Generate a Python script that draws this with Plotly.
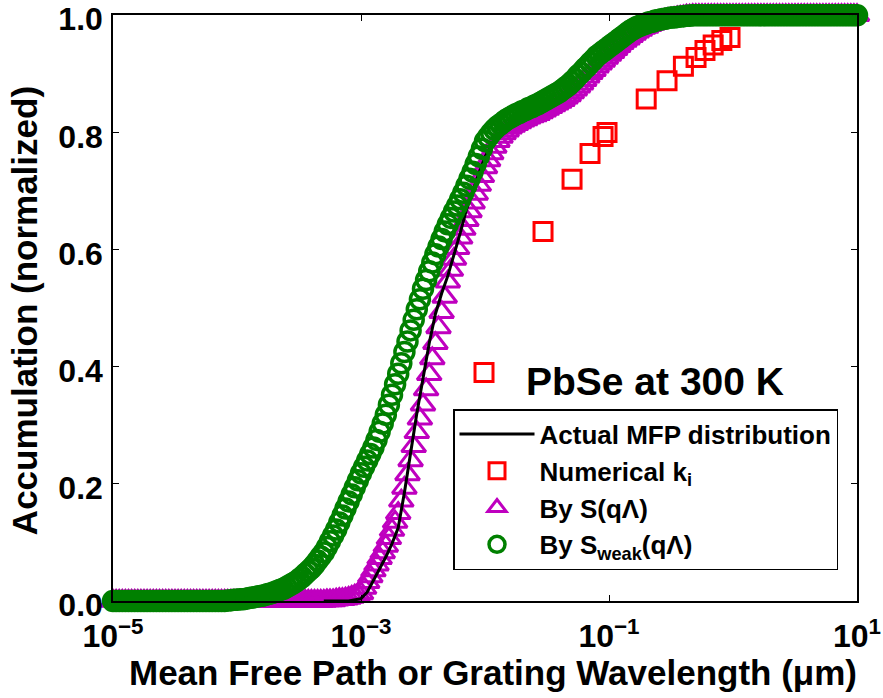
import plotly.graph_objects as go

# ---------------- data (log10 of mean free path in um) ----------------
log_grid_low = [-5.000, -4.975, -4.950, -4.925, -4.900, -4.875, -4.850, -4.825, -4.800, -4.775,
                -4.750, -4.725, -4.700, -4.675, -4.650, -4.625, -4.600, -4.575, -4.550, -4.525,
                -4.500, -4.475, -4.450, -4.425, -4.400, -4.375, -4.350, -4.325, -4.300, -4.275,
                -4.250, -4.225, -4.200, -4.175, -4.150, -4.125, -4.100, -4.075, -4.050, -4.025,
                -4.000, -3.975, -3.950, -3.925, -3.900, -3.875, -3.850, -3.825, -3.800, -3.775,
                -3.750, -3.725, -3.700, -3.675, -3.650, -3.625, -3.600, -3.575, -3.550, -3.525]
log_grid_mid = [-3.500, -3.475, -3.450, -3.425, -3.400, -3.375, -3.350, -3.325, -3.300, -3.275,
                -3.250, -3.225, -3.200, -3.175, -3.150, -3.125, -3.100, -3.075, -3.050, -3.025,
                -3.000, -2.975, -2.950, -2.925, -2.900, -2.875, -2.850, -2.825, -2.800, -2.775,
                -2.750, -2.725, -2.700, -2.675, -2.650, -2.625, -2.600, -2.575, -2.550, -2.525,
                -2.500, -2.475, -2.450, -2.425, -2.400, -2.375, -2.350, -2.325, -2.300, -2.275,
                -2.250, -2.225, -2.200, -2.175, -2.150, -2.125, -2.100, -2.075, -2.050, -2.025,
                -2.000, -1.975, -1.950, -1.925, -1.900, -1.875, -1.850, -1.825, -1.800]
log_grid_high = [-1.775, -1.750, -1.725, -1.700, -1.675, -1.650, -1.625, -1.600, -1.575, -1.550,
                 -1.525, -1.500, -1.475, -1.450, -1.425, -1.400, -1.375, -1.350, -1.325, -1.300,
                 -1.275, -1.250, -1.225, -1.200, -1.175, -1.150, -1.125, -1.100, -1.075, -1.050,
                 -1.025, -1.000, -0.975, -0.950, -0.925, -0.900, -0.875, -0.850, -0.825, -0.800,
                 -0.775, -0.750, -0.725, -0.700, -0.675, -0.650, -0.625, -0.600, -0.575, -0.550,
                 -0.525, -0.500, -0.475, -0.450, -0.425, -0.400, -0.375, -0.350, -0.325, -0.300,
                 -0.275, -0.250, -0.225, -0.200, -0.175, -0.150, -0.125, -0.100, -0.075, -0.050,
                 -0.025, 0.000, 0.025, 0.050, 0.075, 0.100, 0.125, 0.150, 0.175, 0.200,
                 0.225, 0.250, 0.275, 0.300, 0.325, 0.350, 0.375, 0.400, 0.425, 0.450,
                 0.475, 0.500, 0.525, 0.550, 0.575, 0.600, 0.625, 0.650, 0.675, 0.700,
                 0.725, 0.750, 0.775, 0.800, 0.825, 0.850, 0.875, 0.900, 0.925, 0.950,
                 0.975, 1.000]

# By S_weak(q Lambda)  (green circles)
weak_low = [0, 0, 0, 0, 0, 0, 0, 0, 0, 0,
            0, 0, 0, 0, 0, 0, 0, 0, 0, 0,
            0, 0, 0, 0, 0, 0, 0, 0, 0, 0,
            0, 0, 0, 0, 0, 0, 0, 0.001, 0.001, 0.002,
            0.002, 0.003, 0.003, 0.004, 0.005, 0.006, 0.007, 0.008, 0.009, 0.010,
            0.012, 0.013, 0.015, 0.017, 0.019, 0.021, 0.024, 0.027, 0.030, 0.033]
weak_mid = [0.037, 0.041, 0.046, 0.051, 0.056, 0.062, 0.069, 0.076, 0.083, 0.092,
            0.102, 0.112, 0.122, 0.134, 0.146, 0.158, 0.170, 0.182, 0.194, 0.206,
            0.218, 0.229, 0.240, 0.251, 0.262, 0.275, 0.289, 0.303, 0.318, 0.335,
            0.352, 0.370, 0.388, 0.406, 0.425, 0.443, 0.462, 0.480, 0.498, 0.515,
            0.533, 0.548, 0.563, 0.578, 0.592, 0.605, 0.618, 0.631, 0.643, 0.654,
            0.665, 0.675, 0.686, 0.697, 0.709, 0.721, 0.733, 0.746, 0.759, 0.772,
            0.785, 0.792, 0.799, 0.805, 0.810, 0.814, 0.818, 0.822, 0.825]
weak_high = [0.828, 0.831, 0.833, 0.836, 0.838, 0.841, 0.843, 0.846, 0.848, 0.851,
             0.854, 0.857, 0.860, 0.863, 0.866, 0.869, 0.873, 0.877, 0.881, 0.886,
             0.891, 0.897, 0.902, 0.908, 0.913, 0.919, 0.924, 0.930, 0.934, 0.938,
             0.942, 0.946, 0.950, 0.954, 0.958, 0.962, 0.966, 0.970, 0.974, 0.977,
             0.980, 0.982, 0.984, 0.986, 0.988, 0.989, 0.991, 0.992, 0.993, 0.994,
             0.995, 0.996, 0.996, 0.997, 0.998, 0.998, 0.999, 0.999, 1.0, 1.0,
             1.0, 1.0, 1.0, 1.0, 1.0, 1.0, 1.0, 1.0, 1.0, 1.0,
             1.0, 1.0, 1.0, 1.0, 1.0, 1.0, 1.0, 1.0, 1.0, 1.0,
             1.0, 1.0, 1.0, 1.0, 1.0, 1.0, 1.0, 1.0, 1.0, 1.0,
             1.0, 1.0, 1.0, 1.0, 1.0, 1.0, 1.0, 1.0, 1.0, 1.0,
             1.0, 1.0, 1.0, 1.0, 1.0, 1.0, 1.0, 1.0, 1.0, 1.0,
             1.0, 1.0]

# By S(q Lambda)  (magenta triangles)
s_low = [0, 0, 0, 0, 0, 0, 0, 0, 0, 0,
         0, 0, 0, 0, 0, 0, 0, 0, 0, 0,
         0, 0, 0, 0, 0, 0, 0, 0, 0, 0,
         0, 0, 0, 0, 0, 0, 0, 0, 0, 0,
         0, 0, 0, 0, 0, 0, 0, 0, 0, 0,
         0, 0, 0, 0, 0, 0, 0, 0, 0, 0]
s_mid = [0, 0, 0, 0, 0, 0, 0, 0, 0, 0.001,
         0.001, 0.001, 0.002, 0.003, 0.003, 0.004, 0.005, 0.007, 0.009, 0.011,
         0.013, 0.022, 0.032, 0.042, 0.052, 0.062, 0.073, 0.083, 0.094, 0.107,
         0.121, 0.135, 0.150, 0.171, 0.193, 0.216, 0.240, 0.264, 0.288, 0.311,
         0.335, 0.361, 0.387, 0.414, 0.440, 0.467, 0.493, 0.519, 0.545, 0.565,
         0.584, 0.602, 0.620, 0.635, 0.650, 0.665, 0.680, 0.695, 0.710, 0.725,
         0.740, 0.752, 0.764, 0.775, 0.785, 0.792, 0.798, 0.803, 0.808]
s_high = [0.811, 0.814, 0.817, 0.820, 0.822, 0.825, 0.827, 0.829, 0.831, 0.834,
          0.837, 0.840, 0.843, 0.846, 0.849, 0.852, 0.855, 0.859, 0.863, 0.868,
          0.873, 0.878, 0.883, 0.889, 0.895, 0.901, 0.906, 0.912, 0.917, 0.922,
          0.927, 0.932, 0.937, 0.942, 0.947, 0.952, 0.956, 0.960, 0.964, 0.968,
          0.972, 0.975, 0.978, 0.980, 0.983, 0.985, 0.987, 0.989, 0.991, 0.992,
          0.993, 0.994, 0.995, 0.996, 0.997, 0.998, 0.999, 0.999, 1.0, 1.0,
          1.0, 1.0, 1.0, 1.0, 1.0, 1.0, 1.0, 1.0, 1.0, 1.0,
          1.0, 1.0, 1.0, 1.0, 1.0, 1.0, 1.0, 1.0, 1.0, 1.0,
          1.0, 1.0, 1.0, 1.0, 1.0, 1.0, 1.0, 1.0, 1.0, 1.0,
          1.0, 1.0, 1.0, 1.0, 1.0, 1.0, 1.0, 1.0, 1.0, 1.0,
          1.0, 1.0, 1.0, 1.0, 1.0, 1.0, 1.0, 1.0, 1.0, 1.0,
          1.0, 1.0]

# Actual MFP distribution (black line)
actual_log = [-3.30, -3.10, -3.00, -2.95, -2.90, -2.85, -2.80, -2.75, -2.70, -2.65,
              -2.60, -2.55, -2.50, -2.45, -2.40, -2.35, -2.30, -2.25, -2.20, -2.15,
              -2.10, -2.05, -2.00, -1.90, -1.80, -1.70, -1.60, -1.50, -1.40, -1.30,
              -1.20, -1.10, -1.00, -0.90, -0.80, -0.70, -0.60, -0.50, -0.40, -0.30,
              0.00, 0.50, 1.00]
actual_y = [0.0, 0.0, 0.004, 0.015, 0.035, 0.055, 0.075, 0.098, 0.125, 0.185,
            0.255, 0.320, 0.380, 0.440, 0.490, 0.525, 0.555, 0.590, 0.628, 0.668,
            0.700, 0.730, 0.758, 0.795, 0.812, 0.823, 0.832, 0.843, 0.855, 0.871,
            0.892, 0.915, 0.935, 0.954, 0.970, 0.981, 0.990, 0.995, 0.998, 1.0,
            1.0, 1.0, 1.0]

# Numerical k_i (red squares)
num_log = [-2.008, -1.532, -1.298, -1.153, -1.048, -1.016, -0.700, -0.532,
           -0.400, -0.298, -0.226, -0.160, -0.090, -0.024]
num_y = [0.390, 0.631, 0.720, 0.764, 0.793, 0.800, 0.857, 0.888,
         0.913, 0.928, 0.940, 0.949, 0.957, 0.962]

x_ticks = [1e-5, 1e-3, 1e-1, 1e1]
x_ticktext = ["10<sup>−5</sup>", "10<sup>−3</sup>", "10<sup>−1</sup>", "10<sup>1</sup>"]
y_ticks = [0.0, 0.2, 0.4, 0.6, 0.8, 1.0]
y_ticktext = ["0.0", "0.2", "0.4", "0.6", "0.8", "1.0"]

# ---------------- figure ----------------
FONT = "Liberation Sans, Arial, Helvetica, sans-serif"
GREEN = "#008000"
MAG = "#BF00BF"
RED = "#FF0000"

grid = [10 ** v for v in (log_grid_low + log_grid_mid + log_grid_high)]
weak_y = weak_low + weak_mid + weak_high
s_y = s_low + s_mid + s_high

fig = go.Figure()
fig.add_trace(go.Scatter(
    x=grid, y=s_y, mode="markers", name="By S(qΛ)",
    marker=dict(symbol="triangle-up-open", size=21, color=MAG, line=dict(width=3, color=MAG)),
    cliponaxis=False, legendrank=3, legendgroup="g3"))
fig.add_trace(go.Scatter(
    x=[10 ** v for v in actual_log], y=actual_y, mode="lines", name="Actual MFP distribution",
    line=dict(color="black", width=3), cliponaxis=False, legendrank=1, legendgroup="g1"))
fig.add_trace(go.Scatter(
    x=grid, y=weak_y, mode="markers", name="By S<sub>weak</sub>(qΛ)",
    marker=dict(symbol="circle-open", size=19, color=GREEN, line=dict(width=3.5, color=GREEN)),
    cliponaxis=False, legendrank=4, legendgroup="g4"))
fig.add_trace(go.Scatter(
    x=[10 ** v for v in num_log], y=num_y, mode="markers", name="Numerical k<sub>i</sub>",
    marker=dict(symbol="square-open", size=18, color=RED, line=dict(width=3, color=RED)),
    cliponaxis=False, legendrank=2, legendgroup="g2"))

fig.update_layout(
    width=883, height=698,
    margin=dict(l=113, r=26, t=15, b=97, autoexpand=False),
    paper_bgcolor="white", plot_bgcolor="white",
    font=dict(family=FONT, color="black", weight="bold"),
    showlegend=True,
    legend=dict(
        x=0.457, y=0.3276, xanchor="left", yanchor="top",
        bgcolor="white", bordercolor="black", borderwidth=1.5,
        font=dict(size=26, family=FONT, color="black", weight="bold"),
        itemwidth=75, tracegroupgap=16, traceorder="normal",
    ),
    xaxis=dict(
        type="log", range=[-5, 1], tickvals=x_ticks, ticktext=x_ticktext,
        ticks="inside", ticklen=6, tickwidth=1, tickcolor="black",
        mirror="allticks", showline=True, linecolor="black", linewidth=1.5,
        showgrid=False, zeroline=False, automargin=False,
        ticklabeloverflow="allow",
        tickfont=dict(size=32, family=FONT, color="black", weight="bold"),
        ticklabelstandoff=6,
    ),
    yaxis=dict(
        range=[0, 1.0004], tickvals=y_ticks, ticktext=y_ticktext,
        ticks="inside", ticklen=6, tickwidth=1, tickcolor="black",
        mirror="allticks", showline=True, linecolor="black", linewidth=1.5,
        showgrid=False, zeroline=False, automargin=False,
        ticklabeloverflow="allow",
        tickfont=dict(size=32, family=FONT, color="black", weight="bold"),
        ticklabelstandoff=2, ticklabelshift=4,
    ),
    annotations=[
        dict(text="Mean Free Path or Grating Wavelength (μm)", xref="paper", yref="paper",
             x=0.511, y=-0.122, xanchor="center", yanchor="middle", showarrow=False,
             font=dict(size=35, family=FONT, color="black", weight="bold")),
        dict(text="Accumulation (normalized)", xref="paper", yref="paper",
             x=-0.118, y=0.495, xanchor="center", yanchor="middle", showarrow=False,
             textangle=-90,
             font=dict(size=35, family=FONT, color="black", weight="bold")),
        dict(text="PbSe at 300 K", xref="paper", yref="paper",
             x=0.7285, y=0.374, xanchor="center", yanchor="middle", showarrow=False,
             font=dict(size=39, family=FONT, color="black", weight="bold")),
    ],
)

fig.write_html("out.html")
